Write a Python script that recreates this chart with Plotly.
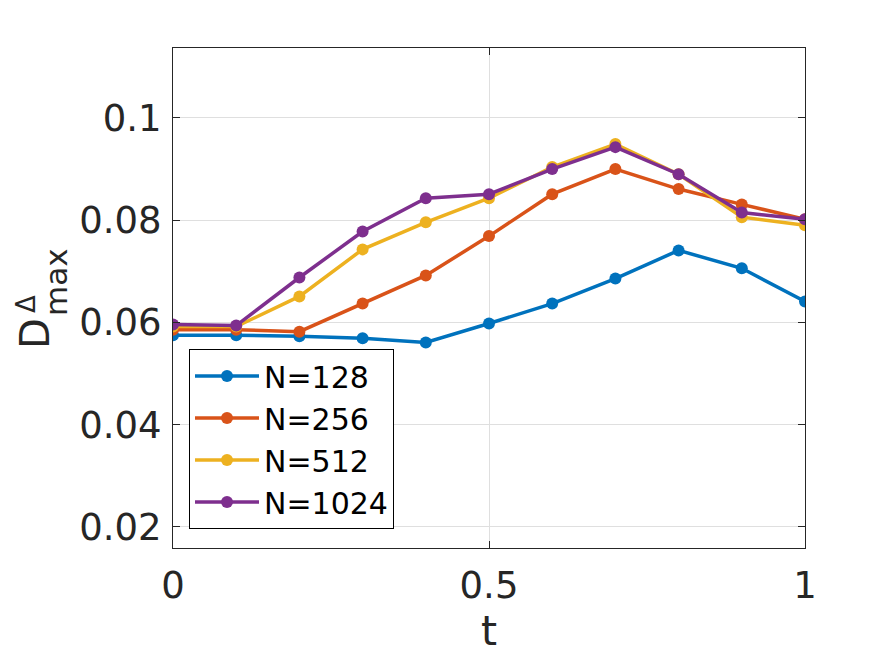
import plotly.graph_objects as go

t = [0, 0.1, 0.2, 0.3, 0.4, 0.5, 0.6, 0.7, 0.8, 0.9, 1.0]
n128 = [0.0575, 0.0575, 0.0573, 0.0569, 0.0561, 0.0598, 0.0637, 0.0686, 0.0741, 0.0706, 0.0641]
n256 = [0.0586, 0.0586, 0.0582, 0.0637, 0.0692, 0.0769, 0.0851, 0.0900, 0.0861, 0.0831, 0.0802]
n512 = [0.0592, 0.0592, 0.0651, 0.0743, 0.0796, 0.0843, 0.0904, 0.0949, 0.0890, 0.0806, 0.0790]
n1024 = [0.0596, 0.0594, 0.0688, 0.0778, 0.0843, 0.0851, 0.0900, 0.0943, 0.0890, 0.0815, 0.0802]
labels = ["N=128", "N=256", "N=512", "N=1024"]
colors = ["#0072BD", "#D95319", "#EDB120", "#7E2F8E"]
series = [n128, n256, n512, n1024]

FONT = "DejaVu Sans"
AX = "#262626"

# page has an 8px body margin; figure is offset by it
L, R, T, B = 165, 86, 40, 108
W, H = 883, 648
PW = W - L - R
PH = H - T - B

fig = go.Figure()
for name, ys, c in zip(labels, series, colors):
    fig.add_trace(go.Scatter(
        x=t, y=ys, name=name, mode="lines+markers",
        line=dict(color=c, width=3.5),
        marker=dict(color=c, size=12),
    ))

fig.update_layout(
    width=W, height=H,
    margin=dict(l=L, r=R, t=T, b=B),
    paper_bgcolor="white", plot_bgcolor="white",
    font=dict(family=FONT, color=AX),
    showlegend=True,
    legend=dict(
        x=16 / PW, y=19 / PH, xanchor="left", yanchor="bottom",
        bgcolor="white", bordercolor="black", borderwidth=1,
        font=dict(family=FONT, size=30, color="black"),
        itemwidth=64, tracegroupgap=0,
    ),
    xaxis=dict(
        range=[0, 1], tickvals=[0, 0.5, 1], ticktext=["0", "0.5", "1"],
        showgrid=True, gridcolor="#dfdfdf", gridwidth=1,
        showline=True, linecolor=AX, linewidth=1, mirror="ticks",
        ticks="inside", ticklen=7, tickcolor=AX,
        tickfont=dict(family=FONT, size=37, color=AX),
        ticklabelstandoff=5,
        zeroline=False,
        title=dict(text="t", font=dict(family=FONT, size=41, color=AX), standoff=8),
    ),
    yaxis=dict(
        range=[0.01589, 0.11369], tickvals=[0.02, 0.04, 0.06, 0.08, 0.1],
        ticktext=["0.02", "0.04", "0.06", "0.08", "0.1"],
        showgrid=True, gridcolor="#dfdfdf", gridwidth=1,
        showline=True, linecolor=AX, linewidth=1, mirror="ticks",
        ticks="inside", ticklen=7, tickcolor=AX,
        tickfont=dict(family=FONT, size=37, color=AX),
        ticklabelstandoff=3,
        zeroline=False,
    ),
)

# y-axis label D with stacked super/subscript (positions in figure pixels)
def px(xp):
    return (xp - L) / PW

def py(yp):
    return (H - B - yp) / PH

fig.add_annotation(text="D", xref="paper", yref="paper", x=px(27), y=py(326),
                   xanchor="center", yanchor="middle", showarrow=False, textangle=-90,
                   font=dict(family=FONT, size=40, color=AX))
fig.add_annotation(text="Δ", xref="paper", yref="paper", x=px(18), y=py(296),
                   xanchor="center", yanchor="middle", showarrow=False, textangle=-90,
                   font=dict(family=FONT, size=26, color=AX))
fig.add_annotation(text="max", xref="paper", yref="paper", x=px(48), y=py(274),
                   xanchor="center", yanchor="middle", showarrow=False, textangle=-90,
                   font=dict(family=FONT, size=31, color=AX))

fig.write_html("out.html")
